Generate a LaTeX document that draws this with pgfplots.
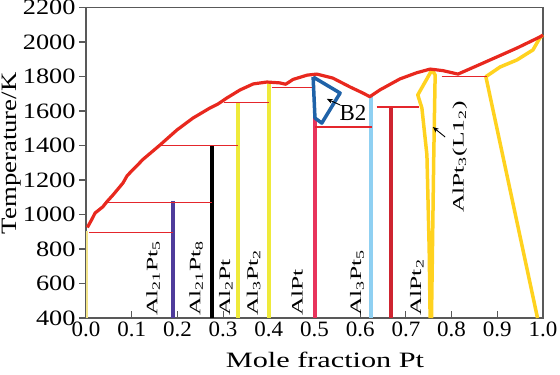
\documentclass[border=0pt]{standalone}
\usepackage{fontspec}
\setmainfont{Liberation Serif}
\usepackage{graphicx}
\usepackage{pgfplots}
\pgfplotsset{compat=1.18}
\usetikzlibrary{arrows.meta}
\definecolor{liq}{HTML}{E8281E}
\definecolor{hred}{HTML}{E4262C}
\definecolor{purp}{HTML}{4F3C9B}
\definecolor{lemon}{HTML}{EFEA3A}
\definecolor{pinkr}{HTML}{E8345C}
\definecolor{lblue}{HTML}{8FD0F2}
\definecolor{dred}{HTML}{CE2430}
\definecolor{gold}{HTML}{FFD21F}
\definecolor{btwo}{HTML}{1F62A8}
\definecolor{paley}{HTML}{F3E58A}
\newcommand{\phl}[1]{\fontsize{16}{18}\selectfont\scalebox{1.6}[1]{#1}}
\begin{document}
\begin{tikzpicture}
\begin{axis}[
  scale only axis, width=457bp, height=310.5bp,
  xmin=0, xmax=1, ymin=400, ymax=2200,
  xtick={0,0.1,0.2,0.3,0.4,0.5,0.6,0.7,0.8,0.9,1.0},
  ytick={400,600,800,1000,1200,1400,1600,1800,2000,2200},
  tick pos=left,
  xtick align=inside, ytick align=outside,
  major tick length=7bp,
  tick style={gray!70!black, line width=1.1bp},
  axis line style={gray!70!black, line width=1.3bp},
  /pgf/number format/assume math mode=true,
  xticklabel={\scalebox{1.05}[1]{\pgfmathprintnumber[fixed,fixed zerofill,precision=1]{\tick}}},
  yticklabel={\scalebox{1.2}[1]{\pgfmathprintnumber[1000 sep={},fixed,precision=0]{\tick}}},
  xticklabel style={font=\fontsize{22}{24}\selectfont},
  yticklabel style={font=\fontsize{22}{24}\selectfont},
  xlabel={\scalebox{1.38}[1]{Mole fraction Pt}},
  ylabel={\scalebox{1.22}[1]{Temperature/K}},
  xlabel style={font=\fontsize{22}{24}\selectfont, at={(axis description cs:0.523,-0.135)}, anchor=center},
  ylabel style={font=\fontsize{22}{24}\selectfont, at={(axis description cs:-0.162,0.53)}, anchor=center},
  clip=false,
]
% pale yellow at x=0
\addplot[paley, line width=1.8bp] coordinates {(0.003,400) (0.003,905)};
% vertical compound lines
\addplot[purp, line width=4bp] coordinates {(0.19,400) (0.19,1078)};
\addplot[black, line width=4bp] coordinates {(0.276,400) (0.276,1395)};
\addplot[lemon, line width=4bp] coordinates {(0.333,400) (0.333,1650)};
\addplot[lemon, line width=4bp] coordinates {(0.4,400) (0.4,1765)};
\addplot[pinkr, line width=4bp] coordinates {(0.5,400) (0.5,1559)};
\addplot[lblue, line width=4bp] coordinates {(0.624,400) (0.624,1688)};
\addplot[dred, line width=4bp] coordinates {(0.667,400) (0.667,1623)};
% AlPt3 lens
\addplot[gold, line width=3.5bp, line join=round] coordinates {(0.753,400) (0.751,794) (0.746,1345) (0.735,1617) (0.726,1693) (0.742,1768) (0.757,1838) (0.764,1809) (0.761,1345) (0.756,400)};
% right solvus / solidus
\addplot[gold, line width=3.5bp, line join=round] coordinates {(0.988,400) (0.875,1799) (0.906,1855) (0.943,1896) (0.978,1954) (0.993,2023) (1.0,2040)};
% horizontal invariant lines
\addplot[hred, line width=1.1bp] coordinates {(0.007,898) (0.19,898)};
\addplot[hred, line width=1.1bp] coordinates {(0.048,1070) (0.276,1070)};
\addplot[hred, line width=1.1bp] coordinates {(0.162,1400) (0.333,1400)};
\addplot[hred, line width=1.1bp] coordinates {(0.302,1648) (0.4,1648)};
\addplot[hred, line width=1.1bp] coordinates {(0.407,1735) (0.497,1735)};
\addplot[hred, line width=1.1bp] coordinates {(0.5,1507) (0.625,1507)};
\addplot[hred, line width=1.1bp] coordinates {(0.636,1623) (0.728,1623)};
\addplot[hred, line width=1.1bp] coordinates {(0.778,1798) (0.877,1798)};
% B2 region
\addplot[btwo, line width=3.5bp, line join=round] coordinates {(0.497,1797) (0.556,1704) (0.516,1530) (0.501,1559) (0.497,1797)};
% liquidus
\addplot[liq, line width=3.2bp, line join=round] coordinates {
(0.003,925) (0.012,968) (0.02,1009) (0.037,1045) (0.046,1075) (0.059,1113) (0.081,1183) (0.09,1225)
(0.125,1320) (0.162,1403) (0.199,1490) (0.234,1559) (0.271,1617) (0.289,1641) (0.308,1675) (0.337,1722)
(0.366,1757) (0.396,1768) (0.424,1763) (0.437,1755) (0.453,1783) (0.484,1808) (0.505,1814) (0.54,1791)
(0.578,1739) (0.606,1704) (0.621,1683) (0.643,1722) (0.687,1786) (0.724,1822) (0.753,1843) (0.781,1834)
(0.814,1814) (0.869,1878) (0.943,1965) (0.993,2029) (1.0,2040)};
% arrows
\addplot[black, line width=0.9bp, -{Stealth[length=6bp,width=5bp]}] coordinates {(0.556,1635) (0.527,1670)};
\addplot[black, line width=0.9bp, -{Stealth[length=6bp,width=5bp]}] coordinates {(0.786,1449) (0.759,1507)};
% labels
\node[rotate=90, anchor=west, inner sep=0pt] at (axis cs:0.147,412) {\phl{Al\textsubscript{21}Pt\textsubscript{5}}};
\node[rotate=90, anchor=west, inner sep=0pt] at (axis cs:0.241,412) {\phl{Al\textsubscript{21}Pt\textsubscript{8}}};
\node[rotate=90, anchor=west, inner sep=0pt] at (axis cs:0.306,412) {\phl{Al\textsubscript{2}Pt}};
\node[rotate=90, anchor=west, inner sep=0pt] at (axis cs:0.367,412) {\phl{Al\textsubscript{3}Pt\textsubscript{2}}};
\node[rotate=90, anchor=west, inner sep=0pt] at (axis cs:0.462,412) {\phl{AlPt}};
\node[rotate=90, anchor=west, inner sep=0pt] at (axis cs:0.593,412) {\phl{Al\textsubscript{3}Pt\textsubscript{5}}};
\node[rotate=90, anchor=west, inner sep=0pt] at (axis cs:0.724,412) {\phl{AlPt\textsubscript{2}}};
\node[rotate=90, anchor=west, inner sep=0pt] at (axis cs:0.818,1008) {\phl{AlPt\textsubscript{3}(L1\textsubscript{2})}};
\node[inner sep=0pt, font=\fontsize{23}{25}\selectfont] at (axis cs:0.584,1588) {B2};
\end{axis}
\pgfresetboundingbox
\path[use as bounding box] ([xshift=-86bp,yshift=-57bp]current axis.south west) rectangle ([xshift=17bp,yshift=7.5bp]current axis.north east);
\end{tikzpicture}
\end{document}
